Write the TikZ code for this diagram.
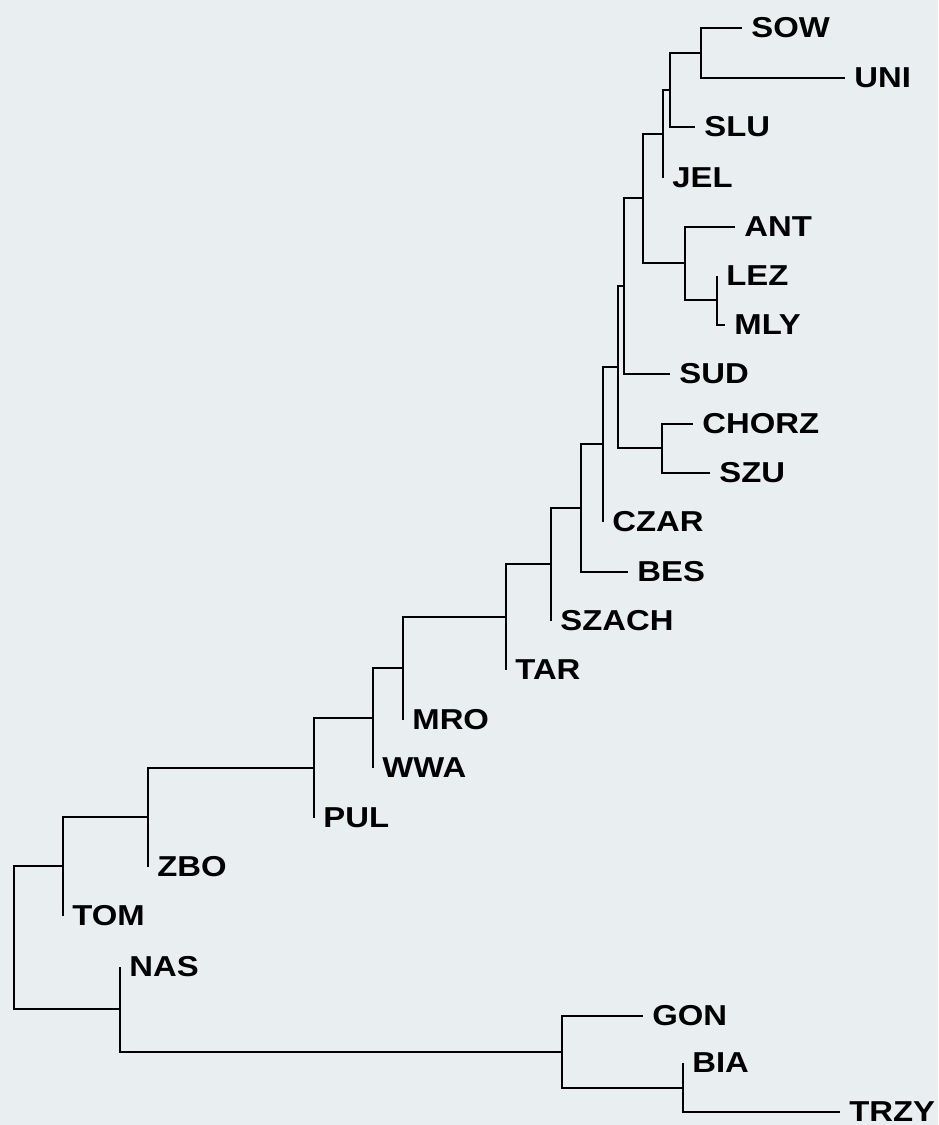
\documentclass[tikz,border=0pt]{standalone}
\usepackage{fontspec}
\newfontfamily\leaffont{Liberation Sans}[FakeStretch=1.14]
\definecolor{paper}{RGB}{233,238,240}

\begin{document}
\begin{tikzpicture}[
	x=0.5pt, y=-0.5pt,
	l/.style = {anchor=west, inner xsep=4.5pt, inner ysep=0pt, font=\fontsize{14.4}{14}\leaffont\bfseries},
	b/.style = {line width=1.3pt}
	]
	
	%Background
	\fill[paper] (0,0) rectangle (938,1125);
	\useasboundingbox (0,0) rectangle (938,1125);
	
	%Leaves
	\node[l]	(SOW)	at	(742, 28)	{SOW};
	\node[l]	(UNI)	at	(845, 78)	{UNI};
	\node[l]	(SLU)	at	(695, 127)	{SLU};
	\node[l]	(JEL)	at	(663, 178)	{JEL};
	\node[l]	(ANT)	at	(735, 227)	{ANT};
	\node[l]	(LEZ)	at	(717, 276)	{LEZ};
	\node[l]	(MLY)	at	(725, 325)	{MLY};
	\node[l]	(SUD)	at	(670, 374)	{SUD};
	\node[l]	(CHORZ)	at	(693, 424)	{CHORZ};
	\node[l]	(SZU)	at	(710, 473)	{SZU};
	\node[l]	(CZAR)	at	(603, 522)	{CZAR};
	\node[l]	(BES)	at	(628, 572)	{BES};
	\node[l]	(SZACH)	at	(551, 621)	{SZACH};
	\node[l]	(TAR)	at	(506, 670)	{TAR};
	\node[l]	(MRO)	at	(403, 720)	{MRO};
	\node[l]	(WWA)	at	(373, 768)	{WWA};
	\node[l]	(PUL)	at	(314, 818)	{PUL};
	\node[l]	(ZBO)	at	(148, 867)	{ZBO};
	\node[l]	(TOM)	at	(63, 916)	{TOM};
	\node[l]	(NAS)	at	(120, 967)	{NAS};
	\node[l]	(GON)	at	(643, 1016)	{GON};
	\node[l]	(BIA)	at	(683, 1063)	{BIA};
	\node[l]	(TRZY)	at	(840, 1112)	{TRZY};
	
	%Joins
	\coordinate	(c1)	at	(701, 53);
	\coordinate	(c2)	at	(670, 90);
	\coordinate	(c3)	at	(663, 134);
	\coordinate	(c4)	at	(717, 300);
	\coordinate	(c5)	at	(685, 263);
	\coordinate	(c6)	at	(643, 198);
	\coordinate	(c7)	at	(624, 286);
	\coordinate	(c8)	at	(662, 448);
	\coordinate	(c9)	at	(618, 367);
	\coordinate	(c10)	at	(603, 444);
	\coordinate	(c11)	at	(581, 508);
	\coordinate	(c12)	at	(551, 564);
	\coordinate	(c13)	at	(506, 617);
	\coordinate	(c14)	at	(403, 668);
	\coordinate	(c15)	at	(373, 718);
	\coordinate	(c16)	at	(314, 768);
	\coordinate	(c17)	at	(148, 817);
	\coordinate	(c18)	at	(63, 866);
	\coordinate	(c19)	at	(683, 1088);
	\coordinate	(c20)	at	(562, 1052);
	\coordinate	(c21)	at	(120, 1009);
	\coordinate	(root)	at	(14, 938);
	
	%Lines
	\draw[b]	(c1)	|-	(SOW.west);
	\draw[b]	(c1)	|-	(UNI.west);
	\draw[b]	(c2)	|-	(c1);
	\draw[b]	(c2)	|-	(SLU.west);
	\draw[b]	(c3)	|-	(c2);
	\draw[b]	(c3)	|-	(JEL.west);
	\draw[b]	(c4)	|-	(LEZ.west);
	\draw[b]	(c4)	|-	(MLY.west);
	\draw[b]	(c5)	|-	(ANT.west);
	\draw[b]	(c5)	|-	(c4);
	\draw[b]	(c6)	|-	(c3);
	\draw[b]	(c6)	|-	(c5);
	\draw[b]	(c7)	|-	(c6);
	\draw[b]	(c7)	|-	(SUD.west);
	\draw[b]	(c8)	|-	(CHORZ.west);
	\draw[b]	(c8)	|-	(SZU.west);
	\draw[b]	(c9)	|-	(c7);
	\draw[b]	(c9)	|-	(c8);
	\draw[b]	(c10)	|-	(c9);
	\draw[b]	(c10)	|-	(CZAR.west);
	\draw[b]	(c11)	|-	(c10);
	\draw[b]	(c11)	|-	(BES.west);
	\draw[b]	(c12)	|-	(c11);
	\draw[b]	(c12)	|-	(SZACH.west);
	\draw[b]	(c13)	|-	(c12);
	\draw[b]	(c13)	|-	(TAR.west);
	\draw[b]	(c14)	|-	(c13);
	\draw[b]	(c14)	|-	(MRO.west);
	\draw[b]	(c15)	|-	(c14);
	\draw[b]	(c15)	|-	(WWA.west);
	\draw[b]	(c16)	|-	(c15);
	\draw[b]	(c16)	|-	(PUL.west);
	\draw[b]	(c17)	|-	(c16);
	\draw[b]	(c17)	|-	(ZBO.west);
	\draw[b]	(c18)	|-	(c17);
	\draw[b]	(c18)	|-	(TOM.west);
	\draw[b]	(c19)	|-	(BIA.west);
	\draw[b]	(c19)	|-	(TRZY.west);
	\draw[b]	(c20)	|-	(GON.west);
	\draw[b]	(c20)	|-	(c19);
	\draw[b]	(c21)	|-	(NAS.west);
	\draw[b]	(c21)	|-	(c20);
	\draw[b]	(root)	|-	(c18);
	\draw[b]	(root)	|-	(c21);
\end{tikzpicture}
\end{document}
